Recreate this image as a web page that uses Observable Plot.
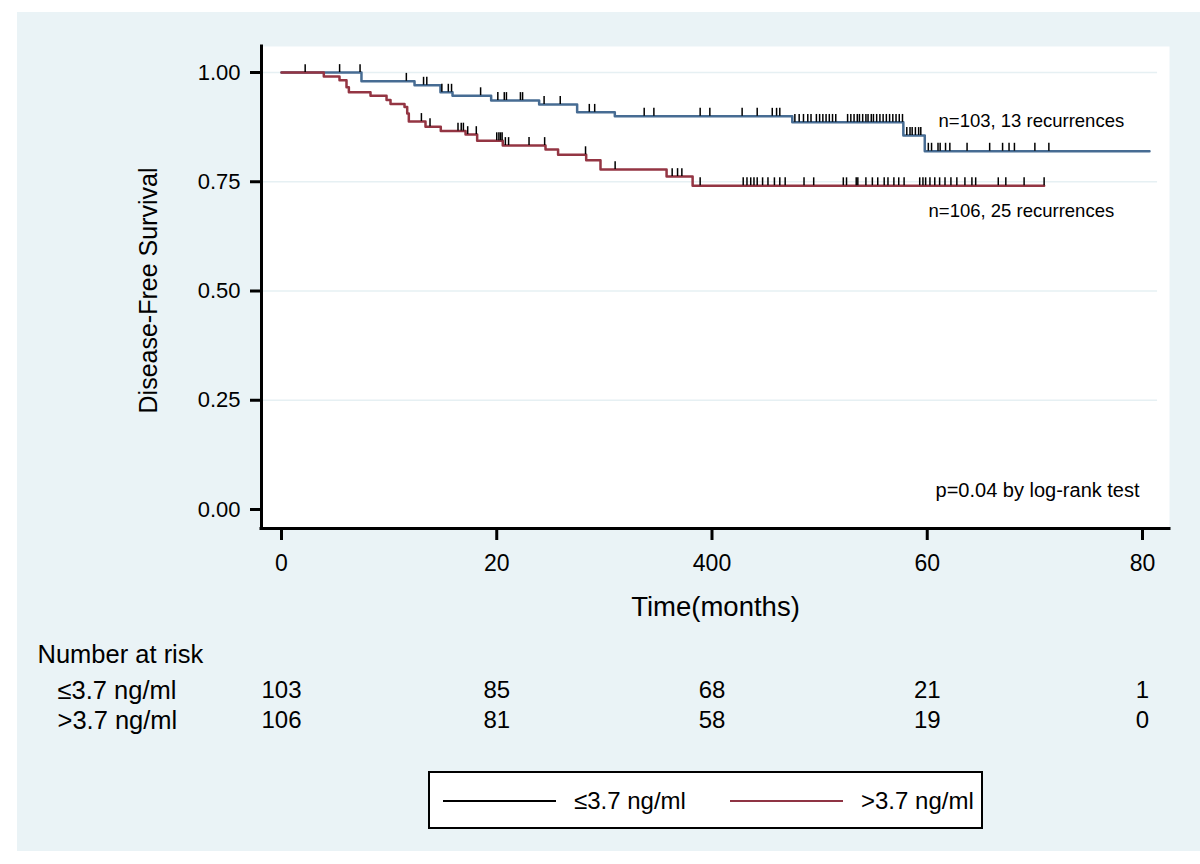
<!DOCTYPE html>
<html>
<head>
<meta charset="utf-8">
<script src="https://cdn.jsdelivr.net/npm/d3@7"></script>
<script src="https://cdn.jsdelivr.net/npm/@observablehq/plot@0.6"></script>
<style>
  body { margin: 0; background: #fff; }
  #page { position: relative; width: 1200px; height: 864px; background: #fff; overflow: hidden;
          font-family: "Liberation Sans", Arial, Helvetica, sans-serif; color: #000; }
  #panel { position: absolute; left: 17px; top: 12px; width: 1183px; height: 839px; background: #eaf3f6; }
  #main { position: absolute; left: 0; top: 12px; }
  #risk { position: absolute; left: 0; top: 632px; }
  #legend { position: absolute; left: 428px; top: 771px; width: 551px; height: 54px;
            border: 2px solid #000; background: #fff; }
  .lg-line { position: absolute; height: 2px; top: 27px; }
  .lg-text { position: absolute; top: 0; line-height: 56px; font-size: 24px; white-space: nowrap; }
</style>
</head>
<body>
<div id="page">
  <div id="panel"></div>
  <div id="main"></div>
  <div id="risk"></div>
  <div id="legend"></div>
</div>
<script>
// ---------------- data ----------------
const groups = ["≤3.7 ng/ml", ">3.7 ng/ml"];
const groupColors = ["#476c93", "#943543"];
const legendColors = ["#000000", "#8f3444"];

// Kaplan-Meier steps, group ≤3.7 ng/ml
const lowTimes = [0, 7.43, 12.36, 14.77, 15.89, 19.48, 23.94, 27.47, 30.97, 47.46, 57.78, 59.77, 80.65];
const lowSurv  = [1, 0.980, 0.971, 0.955, 0.947, 0.936, 0.927, 0.909, 0.900, 0.886, 0.856, 0.820, 0.820];
// censoring times, group ≤3.7 ng/ml
const lowCensor = [2.2, 5.4, 7.3, 11.6, 13.2, 13.5, 14.9, 15.5, 15.8, 18.5, 20.1, 20.7, 20.9, 22.2, 22.4,
  24.4, 25.9, 28.6, 29.1, 33.7, 34.6, 38.9, 39.8, 42.8, 44.2, 45.6, 46.0, 46.3, 47.7, 48.1, 48.5, 48.9,
  49.2, 49.7, 50.0, 50.3, 50.6, 50.9, 51.2, 51.5, 52.6, 52.9, 53.2, 53.5, 53.7, 54.0, 54.3, 54.5, 54.8,
  55.0, 55.3, 55.6, 55.9, 56.2, 56.5, 56.8, 57.1, 57.4, 57.7, 58.1, 58.4, 58.6, 58.9, 59.2, 59.4, 60.1,
  60.4, 61.0, 61.2, 61.7, 62.1, 63.7, 65.8, 67.0, 67.6, 68.1, 70.0, 71.3];

// Kaplan-Meier steps, group >3.7 ng/ml
const highTimes = [0, 3.93, 5.39, 6.04, 6.26, 8.27, 9.76, 10.13, 11.43, 11.68, 11.83, 13.38, 14.80, 17.10,
  18.18, 20.56, 24.53, 25.70, 28.31, 29.64, 35.78, 38.20, 70.86];
const highSurv  = [1, 0.991, 0.982, 0.966, 0.955, 0.947, 0.937, 0.928, 0.921, 0.906, 0.888, 0.876, 0.866,
  0.858, 0.844, 0.833, 0.824, 0.812, 0.799, 0.778, 0.762, 0.741, 0.741];
const highCensor = [13.0, 13.8, 16.4, 16.7, 16.9, 17.3, 18.1, 20.0, 20.2, 20.35, 20.5, 20.8, 21.1, 23.0,
  24.45, 28.25, 31.0, 36.3, 36.8, 37.2, 38.9, 42.9, 43.25, 43.6, 43.9, 44.2, 44.7, 45.2, 45.8, 46.3, 46.8,
  48.55, 49.45, 52.2, 52.5, 53.4, 53.55, 54.3, 54.9, 55.4, 56.0, 56.35, 56.9, 57.35, 57.85, 59.3, 59.6,
  59.85, 60.25, 60.7, 61.15, 61.65, 62.2, 62.75, 63.5, 64.15, 64.5, 66.6, 67.3, 69.0, 70.86];

// axes
const xTicks = [0, 20, 40, 60, 80];
const xTickLabels = ["0", "20", "400", "60", "80"];
const yTicks = [0, 0.25, 0.5, 0.75, 1];
const gridValues = [0.25, 0.5, 0.75, 1];

// number at risk
const riskTimes = [0, 20, 40, 60, 80];
const riskLow  = [103, 85, 68, 21, 1];
const riskHigh = [106, 81, 58, 19, 0];

// annotations
const noteText = ["n=103, 13 recurrences", "n=106, 25 recurrences", "p=0.04 by log-rank test"];
const noteX = [61.05, 60.12, 60.77];
const noteY = [0.888, 0.684, 0.043];
const noteSize = [18.5, 18.5, 20];

// ---------------- build ----------------
const X_DOMAIN = [-1.858, 82.509];
const Y_DOMAIN = [-0.04348, 1.0595];
const FONT = "'Liberation Sans', Arial, Helvetica, sans-serif";

function steps(times, surv, group) {
  return times.map((t, i) => ({t, s: surv[i], group}));
}
function survAt(times, surv, t) {
  let v = surv[0];
  for (let i = 0; i < times.length; i++) if (times[i] <= t) v = surv[i];
  return v;
}
const lowData = steps(lowTimes, lowSurv, groups[0]);
const highData = steps(highTimes, highSurv, groups[1]);
const censorData = [
  ...lowCensor.map(t => ({t, s: survAt(lowTimes, lowSurv, t)})),
  ...highCensor.map(t => ({t, s: survAt(highTimes, highSurv, t)}))
];
const tickLen = 0.018;
const labelMap = new Map(xTicks.map((d, i) => [d, xTickLabels[i]]));
const notes = noteText.map((text, i) => ({text, x: noteX[i], y: noteY[i], size: noteSize[i]}));

const main = Plot.plot({
  width: 1200,
  height: 620,
  marginLeft: 261,
  marginRight: 31,
  marginTop: 34,
  marginBottom: 104,
  style: {background: "transparent", fontFamily: FONT, color: "#000", overflow: "visible"},
  x: {domain: X_DOMAIN, axis: null},
  y: {domain: Y_DOMAIN, axis: null},
  marks: [
    Plot.frame({fill: "white", stroke: "none"}),
    Plot.ruleY(gridValues, {x1: X_DOMAIN[0], x2: 81.4, stroke: "#e6f0f3", strokeWidth: 1.6}),
    Plot.axisY(yTicks, {anchor: "left", tickSize: 11, tickPadding: 10, strokeWidth: 3,
      tickFormat: d3.format(".2f"), fontSize: 22, label: null}),
    Plot.axisX(xTicks, {anchor: "bottom", tickSize: 12, tickPadding: 14, strokeWidth: 3,
      tickFormat: d => labelMap.get(d), fontSize: 23, label: null}),
    Plot.line(lowData, {x: "t", y: "s", curve: "step-after", stroke: groupColors[0], strokeWidth: 2.5}),
    Plot.line(highData, {x: "t", y: "s", curve: "step-after", stroke: groupColors[1], strokeWidth: 2.5}),
    Plot.ruleX(censorData, {x: "t", y1: "s", y2: d => d.s + tickLen, stroke: "#000", strokeWidth: 1.5}),
    Plot.ruleX([X_DOMAIN[0]], {y1: Y_DOMAIN[0], y2: Y_DOMAIN[1], stroke: "#000", strokeWidth: 3, strokeLinecap: "square"}),
    Plot.ruleY([Y_DOMAIN[0]], {x1: X_DOMAIN[0], x2: X_DOMAIN[1], stroke: "#000", strokeWidth: 3, strokeLinecap: "square"}),
    Plot.text(notes.slice(0, 2), {x: "x", y: "y", text: "text", textAnchor: "start", fontSize: noteSize[0], fill: "#000"}),
    Plot.text(notes.slice(2), {x: "x", y: "y", text: "text", textAnchor: "start", fontSize: noteSize[2], fill: "#000"}),
    Plot.text(["Disease-Free Survival"], {frameAnchor: "left", dx: -113, dy: 3, rotate: -90,
      textAnchor: "middle", lineAnchor: "middle", fontSize: 25, fill: "#000"}),
    Plot.text(["Time(months)"], {frameAnchor: "bottom", dy: 79, lineAnchor: "middle", fontSize: 27.5, fill: "#000"})
  ]
});
document.getElementById("main").appendChild(main);

const riskRows = [
  ...riskTimes.map((t, i) => ({t, group: groups[0], n: riskLow[i]})),
  ...riskTimes.map((t, i) => ({t, group: groups[1], n: riskHigh[i]}))
];
const risk = Plot.plot({
  width: 1200,
  height: 130,
  marginLeft: 261,
  marginRight: 31,
  marginTop: 58,
  marginBottom: 42,
  style: {background: "transparent", fontFamily: FONT, color: "#000", overflow: "visible"},
  x: {domain: X_DOMAIN, axis: null},
  y: {type: "point", domain: groups, padding: 0, axis: null},
  marks: [
    Plot.text(riskRows, {x: "t", y: "group", text: d => String(d.n), fontSize: 24, fill: "#000"}),
    Plot.text(groups, {y: d => d, text: d => d, frameAnchor: "left", dx: -204, textAnchor: "start", fontSize: 25.5, fill: "#000"}),
    Plot.text(["Number at risk"], {frameAnchor: "top-left", dx: -224, dy: -36, textAnchor: "start",
      lineAnchor: "middle", fontSize: 25.5, fill: "#000"})
  ]
});
document.getElementById("risk").appendChild(risk);

// legend (HTML, below the chart)
const legend = document.getElementById("legend");
const lgLines = [13, 300];
const lgTexts = [144, 431];
groups.forEach((g, i) => {
  const line = document.createElement("div");
  line.className = "lg-line";
  line.style.left = lgLines[i] + "px";
  line.style.width = "113px";
  line.style.background = legendColors[i];
  legend.appendChild(line);
  const txt = document.createElement("div");
  txt.className = "lg-text";
  txt.style.left = lgTexts[i] + "px";
  txt.textContent = g;
  legend.appendChild(txt);
});
</script>
</body>
</html>
